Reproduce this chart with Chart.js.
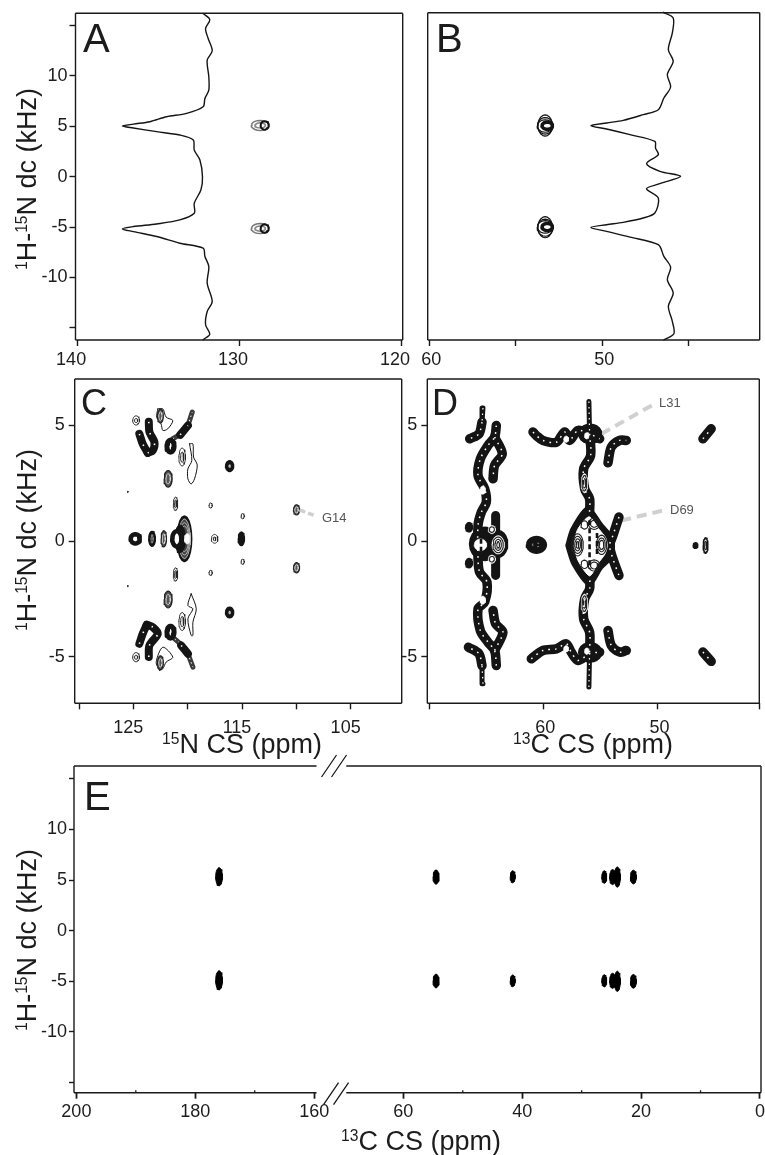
<!DOCTYPE html>
<html><head><meta charset="utf-8">
<script src="https://cdn.jsdelivr.net/npm/chart.js@4"></script>
<style>
html,body{margin:0;padding:0;background:#fff;width:765px;height:1155px;overflow:hidden}
#page{position:relative;width:765px;height:1155px;filter:blur(0.45px)}
canvas{position:absolute;left:0;top:0}
.t{position:absolute;font-family:"Liberation Sans",sans-serif;color:#1c1c1c;white-space:nowrap;line-height:1}
.t sup{font-size:.58em;line-height:0;vertical-align:baseline;position:relative;top:-.55em}
</style></head><body><div id="page"></div>
<script>
// ---------- tick labels ----------
const ticksYWide=[15,10,5,0,-5,-10,-15], labelsYWide=['','10','5','0','-5','-10',''];
const ticksYNarrow=[5,0,-5], labelsYNarrow=['5','0','-5'];
const ticksXA=[140,130,120], labelsXA=['140','130','120'];
const ticksXB=[60,55,50,45], labelsXB=['60','','50',''];
const ticksXC=[130,125,120,115,110,105], labelsXC=['','125','','115','','105'];
const ticksXD=[70,60,50,41.1], labelsXD=['','60','50',''];
const ticksXE=[200,180,160,60,40,20,0], labelsXE=['200','180','160','60','40','20','0'];
const minorXE=[190,170,50,30,10];

// ---------- panel A: 1H-15N slice (ppm, kHz) ----------
const traceA=[[132.22,16.17],[131.81,15.58],[132.07,14.69],[131.91,13.7],[131.66,12.48],[131.97,11.55],[131.87,9.9],[131.87,8.58],[132.11,7.76],[132.22,6.93],[133.24,6.27],[134.48,5.94],[135.5,5.45],[136.53,5.21],[137.21,5.02],[136.53,4.82],[135.09,4.46],[133.66,4.13],[132.83,3.63],[132.77,2.64],[132.42,1.65],[132.26,0],[132.36,-1.32],[132.77,-2.64],[132.77,-3.63],[133.66,-4.29],[135.09,-4.69],[136.53,-4.95],[137.21,-5.18],[136.53,-5.45],[135.09,-5.94],[133.66,-6.6],[132.22,-7.1],[132.11,-7.92],[131.87,-8.91],[131.97,-10.56],[131.66,-12.38],[131.97,-13.37],[132.07,-14.69],[131.81,-15.61],[132.22,-16.17]];
const peaksA=[[128.7,5.08,.54,.5],[128.7,-5.15,.54,.5]];
const peaksAcore=[[128.42,5.08,.25,.42],[128.42,-5.15,.25,.42]];

// ---------- panel B ----------
const traceB=[[46.47,16.29],[45.9,15.73],[45.95,14.24],[46.18,12.58],[45.9,11.42],[46.24,10.1],[46.05,8.87],[46.44,7.78],[46.76,6.62],[47.63,6.13],[48.79,5.56],[49.75,5.3],[50.66,5.03],[49.75,4.7],[48.4,4.14],[46.96,3.48],[46.92,2.81],[46.76,2.15],[47.44,1.26],[46.67,.5],[45.47,0],[46.67,-.73],[47.44,-1.23],[46.76,-2.15],[46.96,-3.64],[47.63,-4.14],[48.79,-4.57],[49.75,-4.8],[50.66,-5.07],[49.75,-5.46],[48.4,-6.03],[46.76,-6.79],[46.44,-7.95],[46.05,-9.01],[46.24,-10.26],[45.9,-11.59],[46.18,-12.91],[45.95,-14.4],[45.86,-15.63],[46.44,-16.23]];
const ringsB=[[53.3,5.05,.42,1.05],[53.3,5.02,.45,.82],[53.3,5,.45,.62],[53.3,-5.05,.42,1.05],[53.3,-5.1,.45,.85],[53.3,-5.02,.45,.62]];
const coresB=[[53.18,5.03,.3,.36],[53.18,-5.03,.3,.36]];

// ---------- panel C ----------
const thinC=[[124.75,5.21,.31,.2],[124.75,5.21,.14,.09],[124.75,-5.01,.31,.2],[124.75,-5.01,.14,.09],[120.51,3.63,.3,.39],[120.51,3.63,.14,.22],[120.51,-3.47,.3,.39],[120.51,-3.47,.14,.22],[121.12,1.61,.2,.29],[121.12,1.61,.09,.17],[121.12,-1.44,.2,.29],[121.12,-1.44,.09,.17],[117.89,1.54,.15,.11],[117.89,-1.37,.15,.11],[114.94,1.08,.15,.11],[114.94,-.89,.15,.11],[117.52,.1,.3,.19],[117.52,.1,.12,.08]];
const denseC=[[121.8,2.69,.37,.36],[121.8,-2.52,.37,.36],[122.51,5.4,.27,.3],[122.51,-5.25,.27,.3],[109.98,1.35,.28,.22],[109.98,-1.15,.28,.22],[122.2,.1,.25,.35]];
const blackC=[[116.14,3.24,.37,.23],[116.14,-3.08,.37,.23],[115.06,.1,.28,.29],[123.28,.1,.3,.32]];
const ringThickC=[[121.58,4.1,.33,.26],[121.58,-3.93,.33,.26],[124.82,.1,.43,.2],[121,.1,.42,.33]];
const dotsC=[[125.52,2.13,.04,.03],[125.52,-1.94,.04,.03]];
const bigC=[[120.3,.1,.62,.96],[120.3,.1,.54,.85],[120.3,.1,.46,.7],[120.3,.1,.38,.55]];
const outlineC1=[[122.75,5.71],[122.29,5.71],[121.98,5.35],[121.37,5.21],[121.83,4.85],[122.29,4.78],[122.45,5.06],[122.85,5.35],[122.75,5.71]];
const outlineC2=[[119.83,4.2],[119.52,4.2],[119.46,3.63],[119.12,3.29],[119.37,2.69],[119.68,2.47],[119.98,2.69],[119.98,3.12],[119.62,3.48],[119.83,4.2]];
const outlineC3=[[119.68,-2.27],[119.21,-2.92],[119.52,-3.5],[119.52,-4.07],[119.68,-4.07],[119.98,-3.35],[119.52,-2.92],[119.98,-2.78],[119.68,-2.27]];
const outlineC4=[[122.6,-5.58],[122.9,-5.22],[122.29,-4.58],[121.37,-5.01],[121.98,-5.22],[122.29,-5.51],[122.6,-5.58]];
const chainsC=[
 [[123.58,5.15],[123.52,4.71],[123.06,4.27],[123.22,3.91],[123.68,3.81]],
 [[124.45,4.63],[124.14,4.2],[123.68,3.81]],
 [[123.58,-5],[123.52,-4.5],[122.75,-4],[123.22,-3.71],[123.77,-3.61]],
 [[124.45,-4.43],[124.14,-4],[123.77,-3.61]],
 [[120.69,4.59],[119.98,4.99]],
 [[120.6,-4.5],[119.98,-4.86]]];
const greyArmsC=[[[119.98,4.99],[119.58,5.57]],[[119.98,-4.86],[119.52,-5.44]],[[121.37,4.42],[120.6,4.63]],[[121.2,-4.22],[120.5,-4.5]]];
const leaderG14=[[109.7,1.35],[108.3,1.1]];

// ---------- panel D ----------
const ridgesD=[
 [[65.36,5.14],[65.63,4.63],[66.44,4.42]],
 [[64.11,4.99],[64.26,4.49],[64.84,4.13],[65.51,3.55],[65.71,2.83],[65.13,2.26],[64.99,1.68],[65.42,1.25],[65.71,.68],[65.71,-.76],[65.57,-1.34],[64.93,-1.77],[65.13,-2.63],[65.71,-2.92],[65.51,-3.86],[64.84,-4.36],[64.26,-4.72],[64.11,-5.37]],
 [[64.26,4.49],[63.59,3.77],[64.26,3.27],[64.4,2.69]],
 [[65.36,-5.37],[65.63,-4.86],[66.55,-4.58]],
 [[64.26,-4.72],[63.53,-3.93],[64.17,-3.57],[64.4,-2.99]],
 [[55.95,4.63],[55.86,3.7],[56.47,3.12],[56.38,2.26],[55.95,1.83],[55.95,1.25]],
 [[60.9,4.71],[60.61,4.56],[60.03,4.35],[58.86,4.27],[58.13,4.71],[57.7,4.35],[56.97,4.78],[55.95,4.63],[55.07,4.42]],
 [[54.34,3.38],[54.05,4.06],[53.32,4.35],[52.74,4.35]],
 [[55.95,-4.79],[55.95,-3.93],[56.47,-3.35],[56.38,-2.49],[55.95,-2.06],[55.95,-1.48]],
 [[61.05,-5.08],[60.03,-4.72],[58.86,-4.65],[58,-4.43],[57.56,-4.79],[56.97,-5.15],[55.95,-4.86],[55.07,-4.79]],
 [[54.34,-3.86],[54.05,-4.5],[53.32,-4.79],[52.74,-4.72]],
 [[53.38,1.04],[53.91,.24],[54.2,-.19],[53.91,-.76],[53.38,-1.48]],
 [[46.03,4.42],[45.31,4.85]],
 [[46.03,-4.79],[45.31,-5.19]]];
const spikesD=[[[65.28,5.75],[65.36,5.14]],[[65.28,-6.16],[65.36,-5.37]],[[56.01,6.03],[55.95,4.63]],[[56.01,-6.3],[55.95,-4.79]]];
const columnsD=[[[64.17,1.11],[64.17,-1.48]]];
const blackBlobsD=[[60.6,-.16,.87,.36],[65.1,-.12,1.35,.72],[63.97,-.12,.85,.58],[66.5,.6,.3,.2],[66.5,-.95,.3,.2],[55.9,4.63,1,.42],[55.9,-4.8,1,.42],[46.68,-.19,.2,.12]];
const diamondD=[[57.95,-.19],[57.5,.53],[56.1,1.45],[54.9,.72],[54.1,.25],[53.85,-.19],[54.1,-.75],[54.9,-1.15],[55.95,-1.9],[57.4,-1],[57.95,-.19]];
const diamondHoleD=[[57.35,-.19],[57,.5],[56,1.05],[55.1,.5],[54.55,.15],[54.4,-.19],[54.6,-.55],[55.2,-.95],[55.95,-1.5],[56.95,-.85],[57.35,-.19]];
const holesD=[[65.5,-.16,.55,.26],[63.95,-.16,.55,.4],[64.5,.5,.32,.18],[64.5,-.78,.32,.18],[56.2,4.55,.2,.14],[56.2,-4.75,.2,.14],[58,4.4,.22,.14],[58,-4.65,.22,.14],[56.4,2.5,.28,.42],[56.4,-2.7,.28,.42],[65.3,2.2,.25,.18],[65.3,-2.55,.25,.18]];
const contoursD=[[57,-.16,.5,.48],[57,-.16,.38,.37],[57,-.16,.25,.26],[57,-.16,.12,.14],[54.9,-.16,.45,.42],[54.9,-.16,.32,.3],[54.9,-.16,.2,.2],[55.55,.75,.5,.24],[55.55,.75,.32,.15],[55.55,-1.05,.5,.24],[55.55,-1.05,.32,.15],[56.4,.7,.3,.18],[56.4,-1,.3,.18],[63.95,-.16,.45,.34],[63.95,-.16,.28,.24],[63.95,-.16,.12,.14],[64.5,.5,.22,.12],[64.5,-.78,.22,.12],[56.4,2.5,.2,.34],[56.4,2.5,.1,.2],[56.4,-2.7,.2,.34],[56.4,-2.7,.1,.2],[45.8,-.19,.09,.18]];
const ringD=[[45.8,-.19,.2,.33]];
const barsD=[[[55.95,.9],[55.95,-1.2]],[[55.3,.35],[55.3,-.65]],[[65.45,.45],[65.45,-.7]]];
const leaderL31=[[54.93,4.63],[50.26,5.93]];
const leaderD69=[[53.18,.89],[49.53,1.32]];

// ---------- panel E (13C ppm, kHz) ----------
const peaksE=[[176,5.33,.57,.9],[176,-4.9,.57,.95],[54.5,5.3,.5,.7],[54.5,-4.97,.5,.68],[41.6,5.33,.42,.6],[41.6,-4.95,.42,.58],[26.2,5.3,.42,.62],[26.2,-4.95,.42,.6],[24.8,5.3,.5,.75],[24.8,-4.95,.5,.75],[24,5.3,.5,1],[24,-5,.5,1],[21.3,5.3,.5,.68],[21.3,-5,.5,.68]];

// ---------- helpers ----------
const INK='#141414', FONT='"Liberation Sans",sans-serif';
const xy=p=>p.map(a=>({x:a[0],y:a[1]}));
function line(pts,w,color,o={}){return Object.assign({data:xy(pts),showLine:true,borderColor:color,borderWidth:w,pointRadius:0,tension:0,fill:false,borderJoinStyle:'round',borderCapStyle:'round',clip:false},o);}
function outline(c){ // closed contour through a peak's extent
  const [x,y,rx,ry]=c; const n=20, pts=[];
  for(let i=0;i<=n;i++){const t=i/n*2*Math.PI; pts.push([x+rx*Math.cos(t),y+ry*Math.sin(t)]);}
  return pts;
}
const ring=(c,w,color,o)=>line(outline(c),w,color,o);
const solid=(c,w,color,fillc)=>line(outline(c),w,color,{fill:'shape',backgroundColor:fillc||color});
const poly=(p,w,color,fillc,o={})=>line(p,w,color,Object.assign({fill:'shape',backgroundColor:fillc||color},o));

Chart.defaults.font.family=FONT;
class BrokenAxis extends Chart.LinearScale{
  static id='brokenAxis';
  static defaults=Chart.LinearScale.defaults;
  getPixelForValue(v){
    const lo=60,hi=160,gap=15,min=this.options.min,max=this.options.max;
    const k=(this.right-this.left)/((max-hi)+gap+(lo-min));
    return v>=(lo+hi)/2 ? this.left+(max-v)*k : this.right-(v-min)*k;
  }
}
Chart.register(BrokenAxis);
const framePlugin={id:'frame',afterDraw(ch,_,o){
  const {ctx,chartArea:a,scales}=ch; ctx.save(); ctx.strokeStyle='#1a1a1a'; ctx.lineWidth=1.4; ctx.lineCap='butt';
  ctx.beginPath();
  ctx.moveTo(a.left,a.top); ctx.lineTo(a.left,a.bottom); ctx.moveTo(a.right,a.top); ctx.lineTo(a.right,a.bottom);
  if(o.gap){
    const g0=scales.x.getPixelForValue(o.gap[0]), g1=scales.x.getPixelForValue(o.gap[1]);
    [a.top,a.bottom].forEach(y=>{ctx.moveTo(a.left,y);ctx.lineTo(g0,y);ctx.moveTo(g1,y);ctx.lineTo(a.right,y);});
    ctx.stroke(); ctx.beginPath(); ctx.lineWidth=1.3;
    [[a.top,-11,12],[a.bottom,-10,13]].forEach(([y,up,dn])=>{
      [5,10].forEach((d,i)=>{const m=g0+d+i*5+(y===a.bottom?2:0);
        ctx.moveTo(m,y+dn-1);ctx.lineTo(m+15,y+up);});
    });
    (o.minor||[]).forEach(v=>{const px=scales.x.getPixelForValue(v);ctx.moveTo(px,a.bottom);ctx.lineTo(px,a.bottom-2.5);});
  } else {
    ctx.moveTo(a.left,a.top);ctx.lineTo(a.right,a.top);ctx.moveTo(a.left,a.bottom);ctx.lineTo(a.right,a.bottom);
  }
  ctx.stroke(); ctx.restore();
}};
const AXW=60, AXH=40;
function axis(min,max,vals,labs,o={}){return Object.assign({type:o.kind||'linear',min,max,reverse:!!o.rev,
  afterBuildTicks:s=>{s.ticks=vals.map(v=>({value:v}));},
  afterFit:s=>{if(s.isHorizontal())s.height=AXH;else s.width=AXW;s.paddingLeft=s.paddingRight=s.paddingTop=s.paddingBottom=0;},
  border:{display:false},
  grid:{drawOnChartArea:false,drawTicks:true,tickLength:o.tl||6,tickWidth:o.tw||1.4,tickColor:'#1a1a1a'},
  ticks:{autoSkip:false,maxRotation:0,minRotation:0,padding:o.pad==null?2:o.pad,labelOffset:o.off||0,color:'#1c1c1c',font:{size:18,family:FONT},
    callback:(v,i)=>labs[i]}
});}
function panel(box,x,y,datasets,frame={}){
  const c=document.createElement('canvas'); c.width=765;c.height=1155;c.style.width='765px';c.style.height='1155px';
  document.getElementById('page').appendChild(c);
  datasets.forEach((d,i)=>d.order=-i);
  return new Chart(c,{type:'scatter',data:{datasets},plugins:[framePlugin],options:{
    responsive:false,animation:false,events:[],devicePixelRatio:1,
    layout:{padding:{left:box[0]-AXW,top:box[1],right:765-box[2],bottom:1155-box[3]-AXH}},
    plugins:{legend:{display:false},tooltip:{enabled:false},frame},
    scales:{x,y}}});
}
function text(html,l,t,size,o={}){const d=document.createElement('div');d.className='t';d.innerHTML=html;
  d.style.left=l+'px';d.style.top=t+'px';d.style.fontSize=size+'px';
  if(o.color)d.style.color=o.color;
  d.style.transform=o.rot?'translate(-50%,-50%) rotate(-90deg)':(o.center?'translate(-50%,-50%)':'');
  document.getElementById('page').appendChild(d);}

// ---------- A ----------
panel([75.5,13.3,402.7,340],
 axis(119.9,140.1,ticksXA,labelsXA,{rev:true,off:-6,pad:3}),
 axis(-16.2,16.2,ticksYWide,labelsYWide),
 [line(traceA,1.4,INK,{tension:.3}),
  ...peaksA.map(p=>ring(p,1.5,'#777')),
  ...peaksA.map(p=>ring([p[0],p[1],p[2]*.6,p[3]*.5],1.6,'#888')),
  ...peaksAcore.map(p=>ring(p,2,INK))]);
// ---------- B ----------
panel([427.7,12.7,759.7,340],
 axis(40.9,60.09,ticksXB,labelsXB,{rev:true,off:2,pad:3}),
 axis(-16.25,16.25,[],[],{}),
 [line(traceB,1.4,INK,{tension:.3}),
  ...ringsB.map(p=>ring(p,1.2,INK)),
  ...coresB.map(p=>ring(p,3.5,INK))]);
// ---------- C ----------
panel([74.7,379,401.7,703.3],
 axis(100.3,130.4,ticksXC,labelsXC,{rev:true,off:-5,pad:8}),
 axis(-7,7,ticksYNarrow,labelsYNarrow,{pad:4}),
 [...[outlineC1,outlineC2,outlineC3,outlineC4].map(p=>line(p,1,INK,{tension:.3})),
  ...thinC.map(p=>ring(p,.9,'#222')),
  ...dotsC.map(p=>ring(p,1,'#333')),
  ...greyArmsC.map(p=>line(p,5,'#3a3a3a')),
  ...greyArmsC.map(p=>line(p,1,'#fff',{borderDash:[1.5,3],borderCapStyle:'butt'})),
  ...denseC.map(p=>solid(p,1.2,'#222','#555')),
  ...denseC.map(p=>ring([p[0],p[1],p[2]*.55,p[3]*.6],.8,'#ddd')),
  ...chainsC.map(p=>line(p,8,INK,{tension:.3})),
  ...chainsC.map(p=>line(p,1.6,'#fff',{tension:.3,borderDash:[1.5,10],borderCapStyle:'butt'})),
  ...ringThickC.slice(0,2).map(p=>ring(p,5,INK,{})),
  ...bigC.slice(0,1).map(p=>solid(p,2.5,INK,'#444')),
  ...bigC.slice(1).map(p=>ring(p,.9,'#bbb')),
  solid([120.7,.1,.5,.6],1,INK,INK),
  solid([120.05,.1,.25,.22],1,'#eee','#fff'),
  ...ringThickC.slice(2).map(p=>solid(p,4.5,INK,'#fff')),
  ...blackC.map(p=>solid(p,1.5,INK)),
  ring([116.14,3.24,.06,.05],1.2,'#bbb'),ring([116.14,-3.08,.06,.05],1.2,'#bbb'),
  ring([123.28,.1,.1,.18],1,'#888'),
  line(leaderG14,3.5,'#cfcfcf',{borderDash:[6,3],borderCapStyle:'butt'})]);
// ---------- D ----------
const blackR=ridgesD.map(p=>line(p,9.5,INK,{tension:.3}));
const whiteR=ridgesD.map(p=>line(p,1.5,'#fff',{tension:.3,borderDash:[1.6,5],borderCapStyle:'butt'}));
panel([427.3,379,759.3,703.3],
 axis(41.1,70.15,ticksXD,labelsXD,{rev:true,off:2,pad:8}),
 axis(-7,7,ticksYNarrow,labelsYNarrow,{pad:4}),
 [line(leaderL31,4,'#d0d0d0',{borderDash:[10,6],borderCapStyle:'butt'}),
  line(leaderD69,4,'#d0d0d0',{borderDash:[10,6],borderCapStyle:'butt'}),
  ...spikesD.map(p=>line(p,5,INK)),
  ...columnsD.map(p=>line(p,9,INK)),
  ...blackR,
  ...blackBlobsD.map(p=>solid(p,1.5,INK)),
  poly(diamondD,3,INK,INK,{tension:.25}),
  poly(diamondHoleD,1,'#fff','#fff',{tension:.25}),
  ...holesD.map(p=>solid(p,.5,'#fff','#fff')),
  ...contoursD.map(p=>ring(p,1.1,'#222')),
  ...ringD.map(p=>ring(p,1.6,INK)),
  ...barsD.map(p=>line(p,2.6,INK,{borderDash:[5,3],borderCapStyle:'butt'})),
  ...whiteR,
  ...spikesD.map(p=>line(p,1.2,'#fff',{borderDash:[1.5,4],borderCapStyle:'butt'})),
  ring([60.6,-.16,.35,.08],1.2,'#777',{borderDash:[1,5]})]);
// ---------- E ----------
panel([74,766,761,1092.7],
 axis(-.17,200.4,ticksXE,labelsXE,{kind:'brokenAxis',rev:false,pad:3,tl:6,tw:1.8}),
 axis(-16,16.27,ticksYWide,labelsYWide,{tl:5}),
 peaksE.map(p=>solid(p,1,'#000')),
 {gap:[159.6,69.6],minor:minorXE});

// ---------- text ----------
const yTitle='<sup>1</sup>H-<sup>15</sup>N dc (kHz)';
text(yTitle,27,179,27,{rot:true});
text(yTitle,27,540,27,{rot:true});
text(yTitle,27,940,27,{rot:true});
text('<sup>15</sup>N CS (ppm)',242,744,27,{center:true});
text('<sup>13</sup>C CS (ppm)',593,744,27,{center:true});
text('<sup>13</sup>C CS (ppm)',421,1141,27,{center:true});
text('A',83,18,40); text('B',436,18,40);
text('C',81,385,36); text('D',432,385,36); text('E',84,776,40);
text('G14',322,511,13,{color:'#555'});
text('L31',659,396,13,{color:'#555'});
text('D69',670,503,13,{color:'#555'});
</script></body></html>
